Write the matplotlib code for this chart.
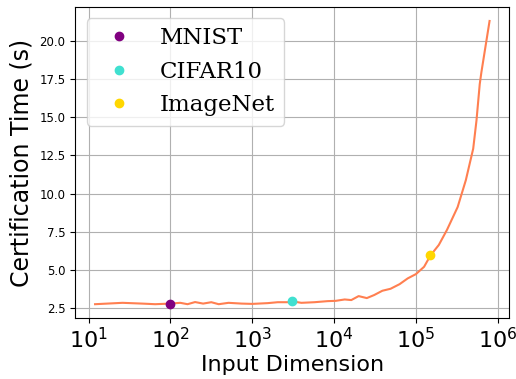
import numpy as np
import matplotlib.pyplot as plt

# certification time vs. input dimension
dims = [12, 26, 45, 65, 100, 132, 162, 200, 251, 316, 389, 513, 741, 1000,
        1549, 2042, 2754, 3072, 3981, 5754, 8318, 10471, 13490, 16218, 19953,
        25119, 30903, 38905, 48978, 63096, 79433, 100000, 125893, 150528,
        190546, 239883, 323594, 407380, 501187, 549541, 602560, 630957, 794328]
times = [2.76, 2.85, 2.80, 2.76, 2.80, 2.85, 2.76, 2.90, 2.80, 2.89, 2.76,
         2.85, 2.80, 2.78, 2.83, 2.89, 2.89, 2.95, 2.85, 2.89, 2.96, 2.98,
         3.07, 3.03, 3.29, 3.16, 3.36, 3.64, 3.77, 4.07, 4.45, 4.73, 5.21,
         5.95, 6.64, 7.63, 9.12, 10.88, 12.94, 14.78, 17.17, 17.94, 21.3]

# datasets marked on the curve
datasets = ["MNIST", "CIFAR10", "ImageNet"]
ds_dims = [100, 3072, 150528]
ds_times = [2.8, 2.97, 5.95]
ds_colors = ["purple", "turquoise", "gold"]

fig = plt.figure(figsize=(5.16, 3.79), dpi=100)
ax = fig.add_axes([0.146, 0.160, 0.841, 0.822])

ax.plot(dims, times, color="coral", lw=1.5, zorder=2)
for name, d, t, c in zip(datasets, ds_dims, ds_times, ds_colors):
    ax.plot(d, t, "o", color=c, markersize=6, label=name, zorder=3)

ax.set_xscale("log")
ax.minorticks_off()
ax.grid(True, zorder=0)
ax.set_axisbelow(True)

ax.tick_params(axis="x", labelsize=16, pad=3)
ax.tick_params(axis="y", labelsize=8.5)
ax.set_xlabel("Input Dimension", fontsize=16, labelpad=2)
ax.set_ylabel("Certification Time (s)", fontsize=17)

ax.legend(loc="upper left", prop={"family": "DejaVu Serif", "size": 16.5})

plt.savefig("out.png", dpi=100)
